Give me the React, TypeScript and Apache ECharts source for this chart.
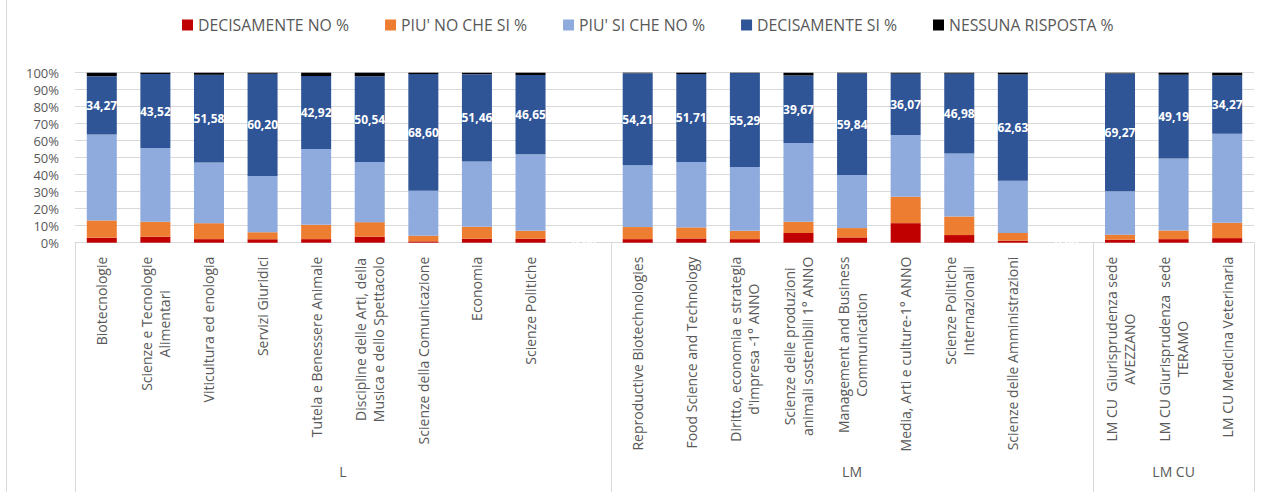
import React, { useEffect, useRef } from "react";
import * as echarts from "echarts";

const categories = [
  "Biotecnologie",
  "Scienze e Tecnologie\nAlimentari",
  "Viticultura ed enologia",
  "Servizi Giuridici",
  "Tutela e Benessere Animale",
  "Discipline delle Arti, della\nMusica e dello Spettacolo",
  "Scienze della Comunicazione",
  "Economia",
  "Scienze Politiche",
  "",
  "Reproductive Biotechnologies",
  "Food Science and Technology",
  "Diritto, economia e strategia\nd'impresa -1° ANNO",
  "Scienze delle produzioni\nanimali sostenibili 1° ANNO",
  "Management and Business\nCommunication",
  "Media, Arti e culture-1° ANNO",
  "Scienze Politiche\nInternazionali",
  "Scienze delle Amministrazioni",
  "",
  "LM CU  Giurisprudenza sede\nAVEZZANO",
  "LM CU Giurisprudenza  sede\nTERAMO",
  "LM CU Medicina Veterinaria",
];

const seriesNames = [
  "DECISAMENTE NO %",
  "PIU' NO CHE SI %",
  "PIU' SI CHE NO %",
  "DECISAMENTE SI %",
  "NESSUNA RISPOSTA %",
];

const decisamenteNo = [2.9, 3.5, 2.1, 2.1, 2.1, 3.5, 0.8, 2.3, 2.3, 0, 2.1, 2.5, 2.1, 5.7, 3.1, 11.5, 4.5, 1.2, 0, 1.8, 2.1, 2.7];
const piuNoCheSi = [10.2, 8.8, 9.4, 4.0, 8.4, 8.6, 3.3, 7.1, 4.7, 0, 7.1, 6.5, 4.9, 6.6, 5.5, 15.5, 10.9, 4.5, 0, 2.9, 5.1, 9.0];
const piuSiCheNo = [50.6, 43.4, 35.7, 33.1, 44.6, 35.3, 26.5, 38.3, 45.0, 0, 36.3, 38.5, 37.5, 46.4, 31.2, 36.4, 37.1, 30.7, 0, 25.6, 42.4, 52.4];
const decisamenteSi = [34.27, 43.52, 51.58, 60.2, 42.92, 50.54, 68.6, 51.46, 46.65, 0, 54.21, 51.71, 55.29, 39.67, 59.84, 36.07, 46.98, 62.63, 0, 69.27, 49.19, 34.27];
const nessunaRisposta = [2.0, 0.8, 1.2, 0.6, 2.0, 2.1, 0.8, 0.8, 1.4, 0, 0.3, 0.8, 0.2, 1.6, 0.4, 0.5, 0.5, 1.0, 0, 0.4, 1.2, 1.6];

const groupNames = ["L", "LM", "LM CU"];
const groupBounds = [0, 10, 19, 22];

const colors = ["#C00000", "#ED7D31", "#8FAADC", "#2F5597", "#000000"];
const GRAY = "#595959";
const LINE = "#d9d9d9";
const FONT = "'Open Sans', sans-serif";

export default function App() {
  const ref = useRef<HTMLDivElement>(null);

  useEffect(() => {
    if (!ref.current) return;
    const chart = echarts.init(ref.current, null, { renderer: "svg" });

    const groupMids = groupNames.map((_, i) => (groupBounds[i] + groupBounds[i + 1]) / 2);
    const allData = [decisamenteNo, piuNoCheSi, piuSiCheNo, decisamenteSi, nessunaRisposta];

    const series = seriesNames.map((name, i) => ({
      name,
      type: "bar",
      stack: "total",
      xAxisIndex: 0,
      yAxisIndex: 0,
      barCategoryGap: "44%",
      data: allData[i],
      itemStyle: { color: colors[i] },
      label:
        i === 3
          ? {
              show: true,
              position: "inside",
              color: "#ffffff",
              fontFamily: FONT,
              fontWeight: "bold",
              fontSize: 12,
              formatter: (p: any) => Number(p.value).toFixed(2).replace(".", ","),
            }
          : { show: false },
      emphasis: { disabled: true },
    }));

    chart.setOption({
      animation: false,
      textStyle: { fontFamily: FONT },
      legend: {
        data: seriesNames,
        left: 182,
        top: 17,
        padding: 0,
        itemWidth: 11,
        itemHeight: 11,
        itemGap: 36,
        icon: "rect",
        textStyle: { color: GRAY, fontSize: 15.8, fontFamily: FONT },
      },
      grid: { left: 75, right: 27, top: 72.7, bottom: 249.3, containLabel: false },
      xAxis: [
        {
          type: "category",
          data: categories,
          axisLine: { show: true, lineStyle: { color: LINE, width: 1 } },
          axisTick: { show: false },
          axisLabel: {
            interval: 0,
            rotate: 90,
            margin: 14,
            color: GRAY,
            fontSize: 14,
            fontFamily: FONT,
            lineHeight: 18,
            formatter: (v: string) =>
              v === "" ? "" : v.split("\n").map((l) => "{c|" + l + "}").join("\n"),
            rich: {
              c: { align: "center", color: GRAY, fontSize: 14, fontFamily: FONT, lineHeight: 18 },
            },
          },
        },
        {
          type: "value",
          min: groupBounds[0],
          max: groupBounds[groupBounds.length - 1],
          position: "bottom",
          axisLine: { show: false },
          splitLine: { show: false },
          axisTick: {
            show: true,
            customValues: groupBounds,
            length: 260,
            lineStyle: { color: LINE, width: 1 },
          },
          axisLabel: {
            customValues: groupMids,
            margin: 222,
            color: GRAY,
            fontSize: 14,
            fontFamily: FONT,
            formatter: (v: number) => {
              const idx = groupMids.findIndex((m) => Math.abs(m - v) < 1e-6);
              return idx >= 0 ? groupNames[idx] : "";
            },
          },
        },
      ],
      yAxis: {
        type: "value",
        min: 0,
        max: 100,
        interval: 10,
        axisLine: { show: false },
        axisTick: { show: false },
        splitLine: { lineStyle: { color: LINE, width: 1 } },
        axisLabel: {
          margin: 16,
          color: GRAY,
          fontSize: 13,
          fontFamily: FONT,
          formatter: "{value}%",
        },
      },
      graphic: [
        {
          type: "line",
          shape: { x1: 6.5, y1: 0, x2: 6.5, y2: 492 },
          style: { stroke: LINE, lineWidth: 1 },
          silent: true,
        },
      ],
      series,
    });

    return () => chart.dispose();
  }, []);

  return (
    <div
      ref={ref}
      style={{ position: "absolute", left: 0, top: 0, width: 1281, height: 492, background: "#ffffff" }}
    />
  );
}
